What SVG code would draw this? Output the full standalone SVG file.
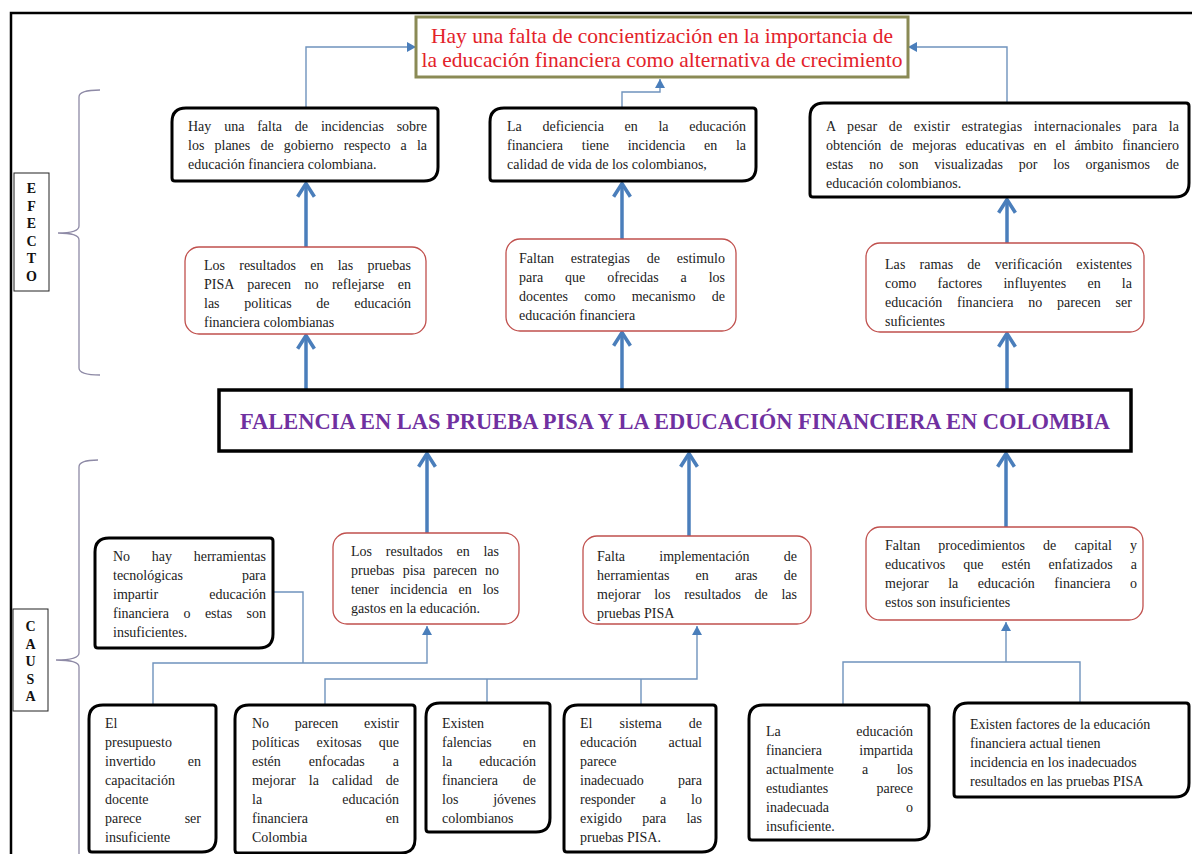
<svg xmlns="http://www.w3.org/2000/svg" width="1192" height="854" viewBox="0 0 1192 854">
<style>
.t{font-family:"Liberation Serif","Times New Roman",serif;font-size:14px;fill:#222}
.e{text-anchor:end}
.lbl{font-family:"Liberation Serif","Times New Roman",serif;font-size:14px;font-weight:bold;fill:#111;text-anchor:middle}
.blk{fill:#fff;stroke:#000;stroke-width:3}
.red{fill:#fff;stroke:#c0504d;stroke-width:1.3}
.thick{fill:none;stroke:#4a7ebb;stroke-width:3.5;marker-end:url(#ah)}
.thin{fill:none;stroke:#6f93bd;stroke-width:1.4}
.thinA{fill:none;stroke:#6f93bd;stroke-width:1.4;marker-end:url(#at)}
.brace{fill:none;stroke:#8e8aa6;stroke-width:1.3}
</style>
<defs>
<marker id="ah" markerUnits="userSpaceOnUse" markerWidth="24" markerHeight="24" viewBox="-14 -10 18 20" refX="-2" refY="0" orient="auto">
<path d="M-11,-7 L0,0 L-11,7" fill="none" stroke="#4a7ebb" stroke-width="3"/>
</marker>
<marker id="at" markerUnits="userSpaceOnUse" markerWidth="12" markerHeight="12" viewBox="-10 -6 11 12" refX="0" refY="0" orient="auto">
<path d="M-9,-5 L0,0 L-9,5 Z" fill="#4a7ebb"/>
</marker>
</defs>
<rect width="1192" height="854" fill="#fff"/>
<path d="M11,854 V13 H1192" fill="none" stroke="#000" stroke-width="2.5"/>

<g id="labels">
<g id="efecto-label">
<rect x="14" y="173" width="35" height="118" fill="#fff" stroke="#222" stroke-width="1"/>
<text class="lbl" x="31.5" y="193">E</text>
<text class="lbl" x="31.5" y="210.5">F</text>
<text class="lbl" x="31.5" y="228">E</text>
<text class="lbl" x="31.5" y="245.5">C</text>
<text class="lbl" x="31.5" y="263">T</text>
<text class="lbl" x="31.5" y="280.5">O</text>
</g>
<path class="brace" d="M100,90 Q79,90 79,97 V226 Q79,233 58,233 Q79,233 79,240 V368 Q79,375 100,375"/>
<g id="causa-label">
<rect x="13" y="609" width="35" height="102" fill="#fff" stroke="#222" stroke-width="1"/>
<text class="lbl" x="30.5" y="631">C</text>
<text class="lbl" x="30.5" y="648.5">A</text>
<text class="lbl" x="30.5" y="666">U</text>
<text class="lbl" x="30.5" y="683.5">S</text>
<text class="lbl" x="30.5" y="701">A</text>
</g>
<path class="brace" d="M98,460 Q79,460 79,467 V653 Q79,660 56,660 Q79,660 79,667 V854"/>
</g>

<g id="connectors">
<path class="thinA" d="M306,108 V47 H416"/>
<path class="thinA" d="M622,108 V92 H660 V79"/>
<path class="thinA" d="M1007,103 V47 H908"/>
<path class="thick" d="M306,247 V186"/>
<path class="thick" d="M306,390 V338"/>
<path class="thick" d="M622,239 V186"/>
<path class="thick" d="M622,390 V335"/>
<path class="thick" d="M1007,243 V202"/>
<path class="thick" d="M1007,390 V336"/>
<path class="thick" d="M427,533 V456"/>
<path class="thick" d="M689,536 V456"/>
<path class="thick" d="M1006,527 V456"/>
<path class="thinA" d="M153,705 V663 H427 V626"/>
<path class="thin" d="M273,592 H303 V663"/>
<path class="thinA" d="M325,705 V679 H697 V626"/>
<path class="thin" d="M487,679 V703"/>
<path class="thin" d="M641,679 V705"/>
<path class="thin" d="M843,705 V662 H1080 V703"/>
<path class="thinA" d="M1006,662 V622"/>
</g>

<g id="title">
<rect x="416" y="17" width="492" height="60" fill="#fff" stroke="#8a8a55" stroke-width="3"/>
<text x="662" y="43" text-anchor="middle" font-family="Liberation Serif, Times New Roman, serif" font-size="21.5" fill="#e3222a">Hay una falta de concientización en la importancia de</text>
<text x="662" y="67" text-anchor="middle" font-family="Liberation Serif, Times New Roman, serif" font-size="21.5" fill="#e3222a">la educación financiera como alternativa de crecimiento</text>
</g>

<g id="efecto1">
<path class="blk" d="M186,108 H435 Q438,108 438,111 V167 Q438,181 424,181 H175 Q172,181 172,178 V122 Q172,108 186,108 Z"/>
<text class="t" x="188" y="131" word-spacing="9.3" textLength="239" lengthAdjust="spacing">Hay una falta de incidencias sobre</text>
<text class="t" x="188" y="150" word-spacing="6.6" textLength="239" lengthAdjust="spacing">los planes de gobierno respecto a la</text>
<text class="t" x="188" y="169">educación financiera colombiana.</text>
</g>

<g id="efecto2">
<path class="blk" d="M504,108 H753 Q756,108 756,111 V167 Q756,181 742,181 H493 Q490,181 490,178 V122 Q490,108 504,108 Z"/>
<text class="t" x="507" y="131" word-spacing="17.2" textLength="239" lengthAdjust="spacing">La deficiencia en la educación</text>
<text class="t" x="507" y="150" word-spacing="15.2" textLength="239" lengthAdjust="spacing">financiera tiene incidencia en la</text>
<text class="t" x="507" y="169">calidad de vida de los colombianos,</text>
</g>

<g id="efecto3">
<path class="blk" d="M824,103 H1186 Q1189,103 1189,106 V183 Q1189,197 1175,197 H813 Q810,197 810,194 V117 Q810,103 824,103 Z"/>
<text class="t" x="826" y="131" word-spacing="7.8" textLength="353" lengthAdjust="spacing">A pesar de existir estrategias internacionales para la</text>
<text class="t" x="826" y="150" word-spacing="5.3" textLength="353" lengthAdjust="spacing">obtención de mejoras educativas en el ámbito financiero</text>
<text class="t" x="826" y="169" word-spacing="12.3" textLength="353" lengthAdjust="spacing">estas no son visualizadas por los organismos de</text>
<text class="t" x="826" y="188">educación colombianos.</text>
</g>

<g id="efecto4">
<rect class="red" x="185" y="247" width="241" height="87" rx="14"/>
<text class="t" x="204" y="270" word-spacing="10.7" textLength="207" lengthAdjust="spacing">Los resultados en las pruebas</text>
<text class="t" x="204" y="289" word-spacing="9.9" textLength="207" lengthAdjust="spacing">PISA parecen no reflejarse en</text>
<text class="t" x="204" y="308" word-spacing="21.2" textLength="207" lengthAdjust="spacing">las politicas de educación</text>
<text class="t" x="204" y="327">financiera colombianas</text>
</g>

<g id="efecto5">
<rect class="red" x="506" y="239" width="230" height="92" rx="14"/>
<text class="t" x="519" y="263" word-spacing="13.3" textLength="206" lengthAdjust="spacing">Faltan estrategias de estimulo</text>
<text class="t" x="519" y="282" word-spacing="18.4" textLength="206" lengthAdjust="spacing">para que ofrecidas a los</text>
<text class="t" x="519" y="301" word-spacing="12.8" textLength="206" lengthAdjust="spacing">docentes como mecanismo de</text>
<text class="t" x="519" y="320">educación financiera</text>
</g>

<g id="efecto6">
<rect class="red" x="866" y="243" width="278" height="89" rx="14"/>
<text class="t" x="885" y="269" word-spacing="10.5" textLength="247" lengthAdjust="spacing">Las ramas de verificación existentes</text>
<text class="t" x="885" y="288" word-spacing="17.5" textLength="247" lengthAdjust="spacing">como factores influyentes en la</text>
<text class="t" x="885" y="307" word-spacing="11.1" textLength="247" lengthAdjust="spacing">educación financiera no parecen ser</text>
<text class="t" x="885" y="326">suficientes</text>
</g>

<g id="problema">
<rect x="219" y="390" width="912" height="61" fill="#fff" stroke="#000" stroke-width="3.5"/>
<text x="675" y="429" text-anchor="middle" font-family="Liberation Serif, Times New Roman, serif" font-size="24" font-weight="bold" fill="#7030a0" textLength="870" lengthAdjust="spacingAndGlyphs">FALENCIA EN LAS PRUEBA PISA Y LA EDUCACIÓN FINANCIERA EN COLOMBIA</text>
</g>

<g id="causa1">
<path class="blk" d="M109,538 H270 Q273,538 273,541 V634 Q273,648 259,648 H98 Q95,648 95,645 V552 Q95,538 109,538 Z"/>
<text class="t" x="113" y="561" word-spacing="18.2" textLength="153" lengthAdjust="spacing">No hay herramientas</text>
<text class="t" x="113" y="580">tecnológicas</text><text class="t e" x="266" y="580">para</text>
<text class="t" x="113" y="599">impartir</text><text class="t e" x="266" y="599">educación</text>
<text class="t" x="113" y="618" word-spacing="11" textLength="153" lengthAdjust="spacing">financiera o estas son</text>
<text class="t" x="113" y="637">insuficientes.</text>
</g>

<g id="causa2">
<rect class="red" x="333" y="533" width="186" height="91" rx="14"/>
<text class="t" x="351" y="556" word-spacing="10.3" textLength="148" lengthAdjust="spacing">Los resultados en las</text>
<text class="t" x="351" y="575" word-spacing="4.6" textLength="148" lengthAdjust="spacing">pruebas pisa parecen no</text>
<text class="t" x="351" y="594" word-spacing="7.5" textLength="148" lengthAdjust="spacing">tener incidencia en los</text>
<text class="t" x="351" y="613">gastos en la educación.</text>
</g>

<g id="causa3">
<rect class="red" x="583" y="536" width="228" height="88" rx="14"/>
<text class="t" x="597" y="561" word-spacing="30.8" textLength="200" lengthAdjust="spacing">Falta implementación de</text>
<text class="t" x="597" y="580" word-spacing="22.7" textLength="200" lengthAdjust="spacing">herramientas en aras de</text>
<text class="t" x="597" y="599" word-spacing="10.1" textLength="200" lengthAdjust="spacing">mejorar los resultados de las</text>
<text class="t" x="597" y="618">pruebas PISA</text>
</g>

<g id="causa4">
<rect class="red" x="866" y="527" width="277" height="93" rx="14"/>
<text class="t" x="885" y="550" word-spacing="14.5" textLength="252" lengthAdjust="spacing">Faltan procedimientos de capital y</text>
<text class="t" x="885" y="569" word-spacing="14.5" textLength="252" lengthAdjust="spacing">educativos que estén enfatizados a</text>
<text class="t" x="885" y="588" word-spacing="15.9" textLength="252" lengthAdjust="spacing">mejorar la educación financiera o</text>
<text class="t" x="885" y="607">estos son insuficientes</text>
</g>

<g id="sub1">
<path class="blk" d="M103,705 H213 Q216,705 216,708 V838 Q216,852 202,852 H92 Q89,852 89,849 V719 Q89,705 103,705 Z"/>
<text class="t" x="105" y="728">El</text>
<text class="t" x="105" y="747">presupuesto</text>
<text class="t" x="105" y="766">invertido</text><text class="t e" x="201" y="766">en</text>
<text class="t" x="105" y="785">capacitación</text>
<text class="t" x="105" y="804">docente</text>
<text class="t" x="105" y="823">parece</text><text class="t e" x="201" y="823">ser</text>
<text class="t" x="105" y="842">insuficiente</text>
</g>

<g id="sub2">
<path class="blk" d="M249,705 H412 Q415,705 415,708 V839 Q415,853 401,853 H238 Q235,853 235,850 V719 Q235,705 249,705 Z"/>
<text class="t" x="252" y="728" word-spacing="22.2" textLength="147" lengthAdjust="spacing">No parecen existir</text>
<text class="t" x="252" y="747" word-spacing="13.6" textLength="147" lengthAdjust="spacing">políticas exitosas que</text>
<text class="t" x="252" y="766" word-spacing="24.5" textLength="147" lengthAdjust="spacing">estén enfocadas a</text>
<text class="t" x="252" y="785" word-spacing="9.7" textLength="147" lengthAdjust="spacing">mejorar la calidad de</text>
<text class="t" x="252" y="804">la</text><text class="t e" x="399" y="804">educación</text>
<text class="t" x="252" y="823">financiera</text><text class="t e" x="399" y="823">en</text>
<text class="t" x="252" y="842">Colombia</text>
</g>

<g id="sub3">
<path class="blk" d="M440,703 H547 Q550,703 550,706 V818 Q550,832 536,832 H429 Q426,832 426,829 V717 Q426,703 440,703 Z"/>
<text class="t" x="442" y="728">Existen</text>
<text class="t" x="442" y="747">falencias</text><text class="t e" x="536" y="747">en</text>
<text class="t" x="442" y="766">la</text><text class="t e" x="536" y="766">educación</text>
<text class="t" x="442" y="785">financiera</text><text class="t e" x="536" y="785">de</text>
<text class="t" x="442" y="804">los</text><text class="t e" x="536" y="804">jóvenes</text>
<text class="t" x="442" y="823">colombianos</text>
</g>

<g id="sub4">
<path class="blk" d="M578,705 H713 Q716,705 716,708 V838 Q716,852 702,852 H567 Q564,852 564,849 V719 Q564,705 578,705 Z"/>
<text class="t" x="580" y="728" word-spacing="23.6" textLength="122" lengthAdjust="spacing">El sistema de</text>
<text class="t" x="580" y="747">educación</text><text class="t e" x="702" y="747">actual</text>
<text class="t" x="580" y="766">parece</text>
<text class="t" x="580" y="785">inadecuado</text><text class="t e" x="702" y="785">para</text>
<text class="t" x="580" y="804" word-spacing="21.3" textLength="122" lengthAdjust="spacing">responder a lo</text>
<text class="t" x="580" y="823" word-spacing="16.7" textLength="122" lengthAdjust="spacing">exigido para las</text>
<text class="t" x="580" y="842">pruebas PISA.</text>
</g>

<g id="sub5">
<path class="blk" d="M763,705 H926 Q929,705 929,708 V826 Q929,840 915,840 H752 Q749,840 749,837 V719 Q749,705 763,705 Z"/>
<text class="t" x="766" y="736">La</text><text class="t e" x="913" y="736">educación</text>
<text class="t" x="766" y="755">financiera</text><text class="t e" x="913" y="755">impartida</text>
<text class="t" x="766" y="774" word-spacing="24.9" textLength="147" lengthAdjust="spacing">actualmente a los</text>
<text class="t" x="766" y="793">estudiantes</text><text class="t e" x="913" y="793">parece</text>
<text class="t" x="766" y="812">inadecuada</text><text class="t e" x="913" y="812">o</text>
<text class="t" x="766" y="831">insuficiente.</text>
</g>

<g id="sub6">
<path class="blk" d="M968,703 H1186 Q1189,703 1189,706 V783 Q1189,797 1175,797 H957 Q954,797 954,794 V717 Q954,703 968,703 Z"/>
<text class="t" x="970" y="729">Existen factores de la educación</text>
<text class="t" x="970" y="748">financiera actual tienen</text>
<text class="t" x="970" y="767">incidencia en los inadecuados</text>
<text class="t" x="970" y="786">resultados en las pruebas PISA</text>
</g>
</svg>
